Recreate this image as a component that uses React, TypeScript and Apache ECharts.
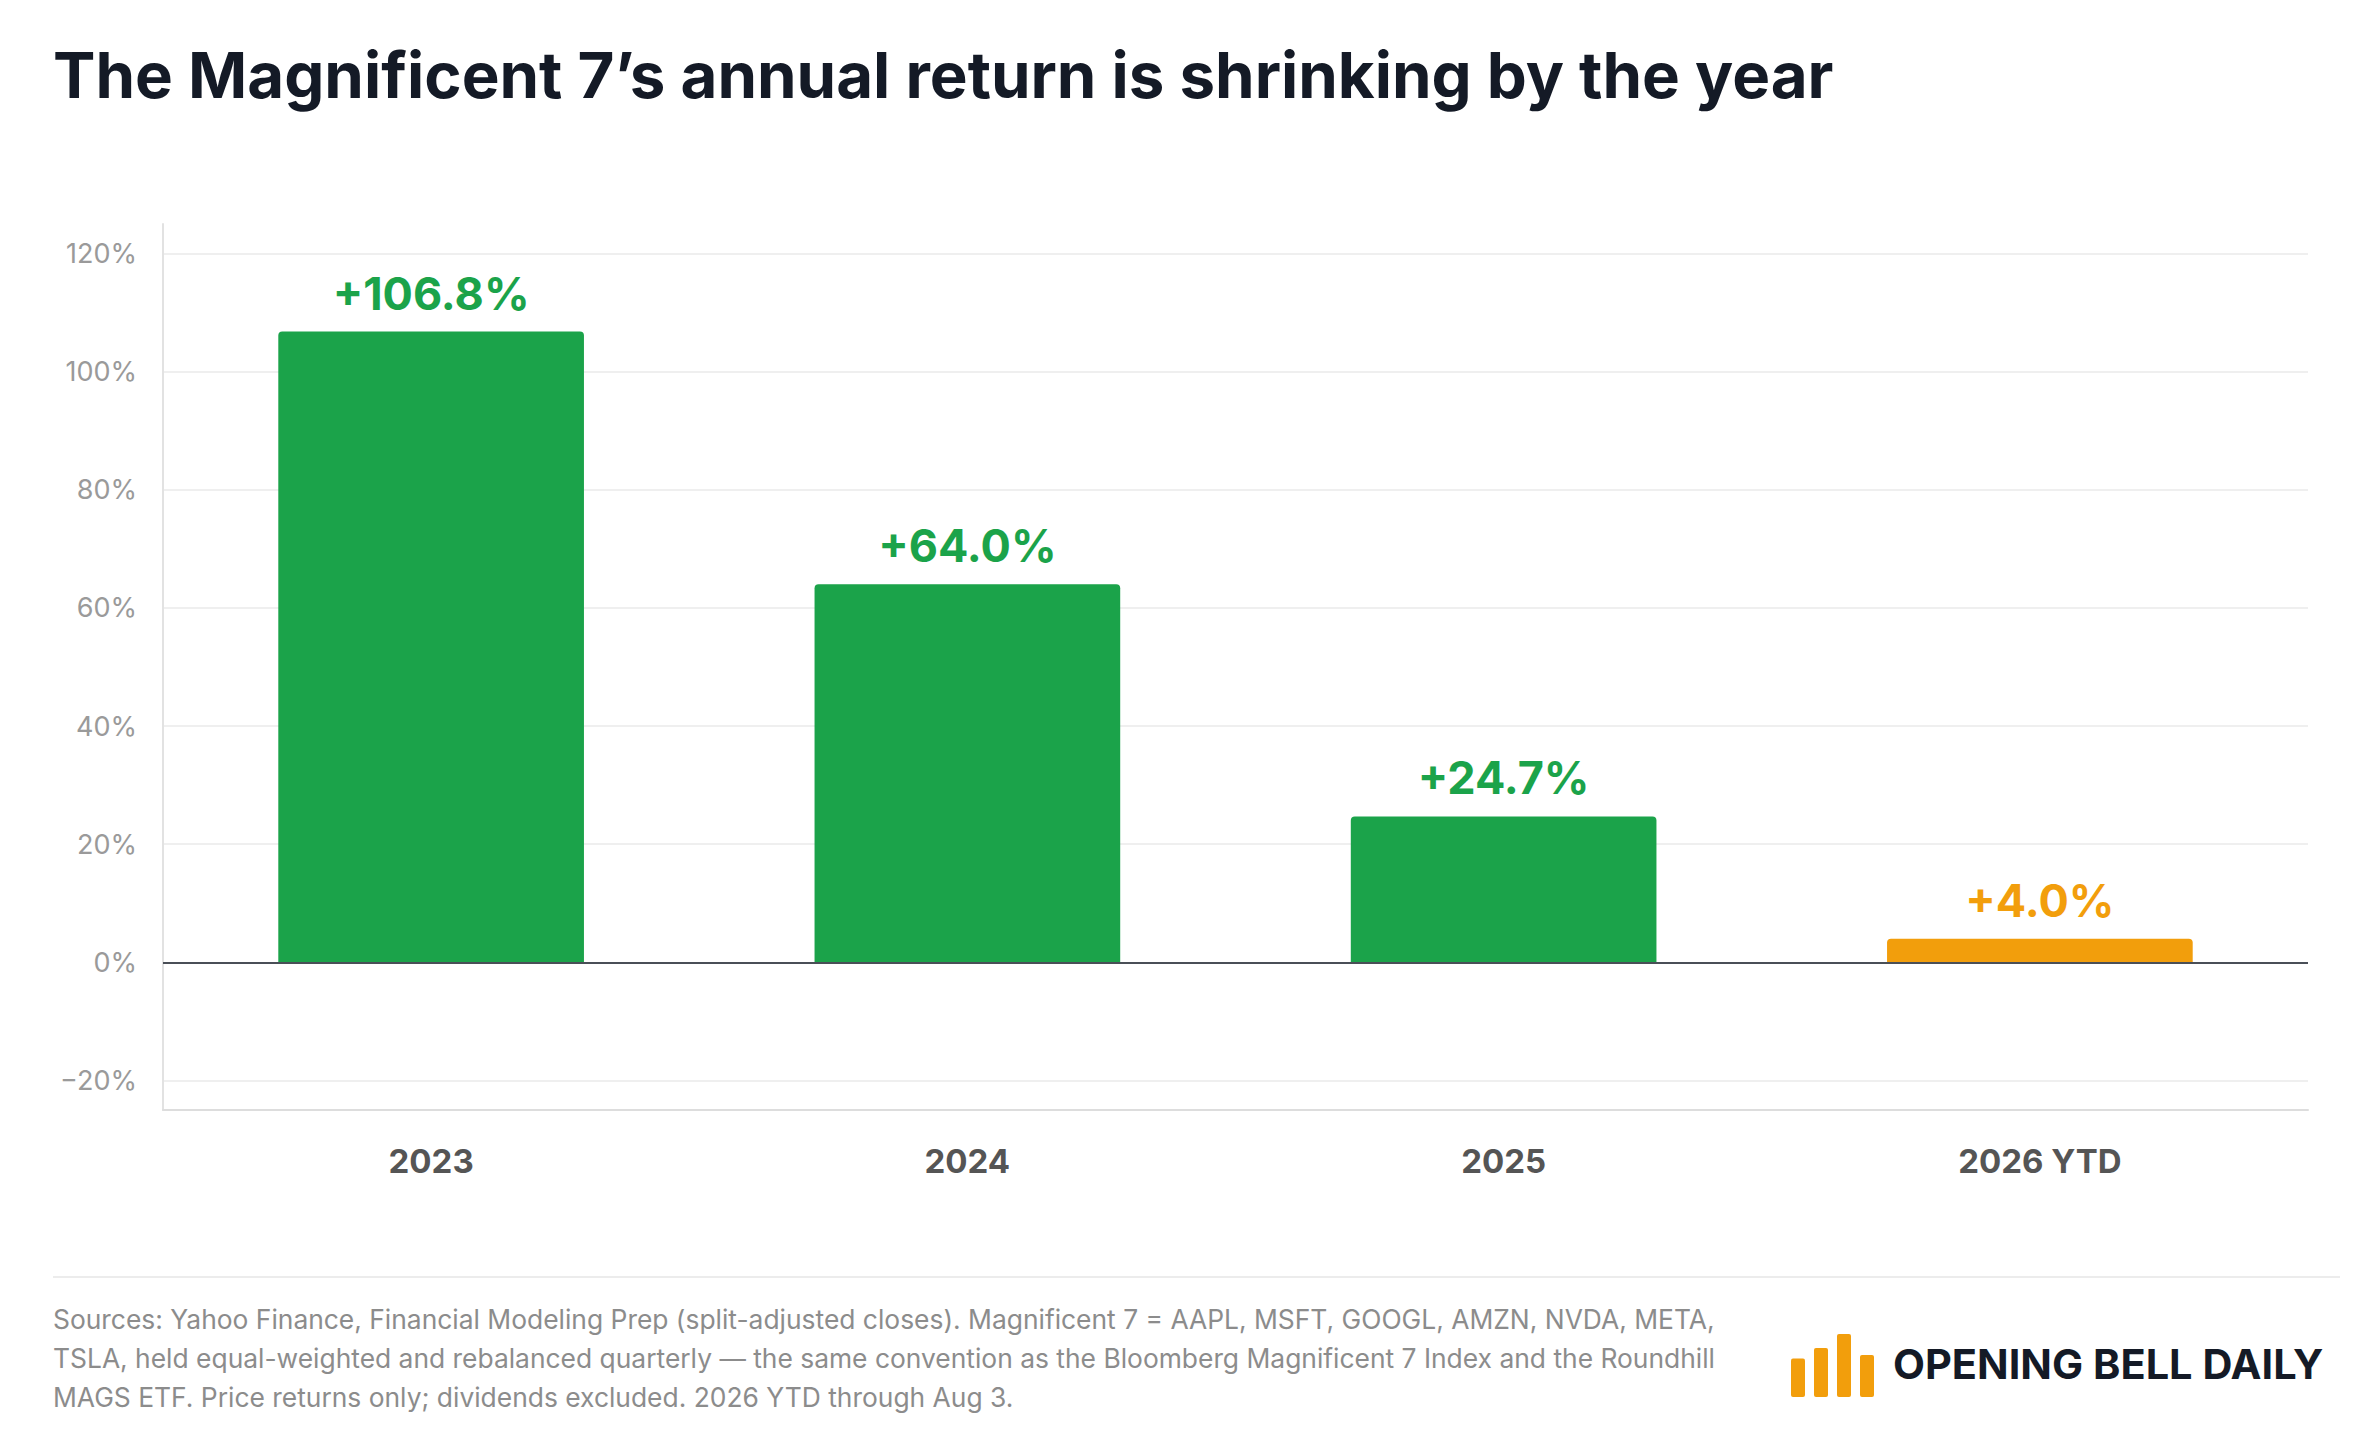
import { useEffect, useRef } from "react";
import * as echarts from "echarts";

const categories = ["2023", "2024", "2025", "2026 YTD"];
const returns = [106.8, 64.0, 24.7, 4.0];
const ytdFlags = [false, false, false, true];
const logoBars = [0.55, 0.7, 0.9, 0.6];

const footerLines = [
  "Sources: Yahoo Finance, Financial Modeling Prep (split-adjusted closes). Magnificent 7 = AAPL, MSFT, GOOGL, AMZN, NVDA, META,",
  "TSLA, held equal-weighted and rebalanced quarterly — the same convention as the Bloomberg Magnificent 7 Index and the Roundhill",
  "MAGS ETF. Price returns only; dividends excluded. 2026 YTD through Aug 3.",
];

const GREEN = "#1ba34a";
const ORANGE = "#f29e0c";
const FONT = "Inter, 'Noto Sans', sans-serif";

export default function App() {
  const chartRef = useRef<HTMLDivElement>(null);

  useEffect(() => {
    document.body.style.margin = "0";
    if (!chartRef.current) return;
    const chart = echarts.init(chartRef.current, null, { renderer: "svg" });

    const option = {
      animation: false,
      backgroundColor: "#ffffff",
      textStyle: { fontFamily: FONT },
      grid: { left: 163, right: 70, top: 224, bottom: 330 },
      xAxis: {
        type: "category",
        data: categories,
        axisLine: { show: true, onZero: false, lineStyle: { color: "#dddddd", width: 2 } },
        axisTick: { show: false },
        axisLabel: { color: "#555555", fontSize: 33, fontWeight: "bold", margin: 34, fontFamily: FONT },
      },
      yAxis: {
        type: "value",
        min: -25,
        max: 125,
        interval: 5,
        axisLine: { show: true, lineStyle: { color: "#e2e2e2", width: 2 } },
        axisTick: { show: false },
        // ticks run every 5 from -25; only multiples of 20 get a visible line
        splitLine: {
          show: true,
          lineStyle: { color: ["rgba(0,0,0,0)", "#efefef", "rgba(0,0,0,0)", "rgba(0,0,0,0)"], width: 2 },
        },
        axisLabel: {
          color: "#9a9a9a",
          fontSize: 27,
          margin: 26,
          fontFamily: FONT,
          formatter: (v: number) =>
            v % 20 === 0 ? (v < 0 ? "\u2212" + Math.abs(v) + "%" : v + "%") : "",
        },
      },
      series: [
        {
          type: "bar",
          barCategoryGap: "43%",
          data: returns.map((v, i) => ({
            value: v,
            itemStyle: { color: ytdFlags[i] ? ORANGE : GREEN, borderRadius: [4, 4, 0, 0] },
            label: { color: ytdFlags[i] ? ORANGE : GREEN },
          })),
          label: {
            show: true,
            position: "top",
            distance: 16,
            fontSize: 45,
            fontWeight: "bold",
            fontFamily: FONT,
            formatter: (p: any) => "+" + p.value.toFixed(1) + "%",
          },
          markLine: {
            silent: true,
            symbol: "none",
            label: { show: false },
            data: [{ yAxis: 0, lineStyle: { color: "#4a4f57", width: 2, type: "solid" } }],
          },
        },
      ],
      graphic: [
        {
          type: "text",
          left: 53,
          top: 42,
          style: {
            text: "The Magnificent 7\u2019s annual return is shrinking by the year",
            fontSize: 63.6,
            fontWeight: "bold",
            fontFamily: FONT,
            fill: "#141a26",
          },
        },
        {
          type: "line",
          shape: { x1: 53, y1: 1277, x2: 2340, y2: 1277 },
          style: { stroke: "#ececec", lineWidth: 2 },
        },
        ...footerLines.map((t, i) => ({
          type: "text",
          left: 53,
          top: 1306 + i * 39,
          style: { text: t, fontSize: 26.4, fontFamily: FONT, fill: "#8c8c8c" },
        })),
        ...logoBars.map((h, i) => ({
          type: "rect",
          shape: { x: 1791 + i * 23, y: 1397 - 70 * h, width: 14, height: 70 * h, r: 2 },
          style: { fill: ORANGE },
        })),
        {
          type: "text",
          left: 1893,
          top: 1343,
          style: {
            text: "OPENING BELL DAILY",
            fontSize: 41.5,
            fontWeight: "bold",
            fontFamily: FONT,
            fill: "#141a26",
          },
        },
      ],
    };

    chart.setOption(option);
    return () => {
      chart.dispose();
    };
  }, []);

  return <div ref={chartRef} style={{ width: 2378, height: 1440 }} />;
}
